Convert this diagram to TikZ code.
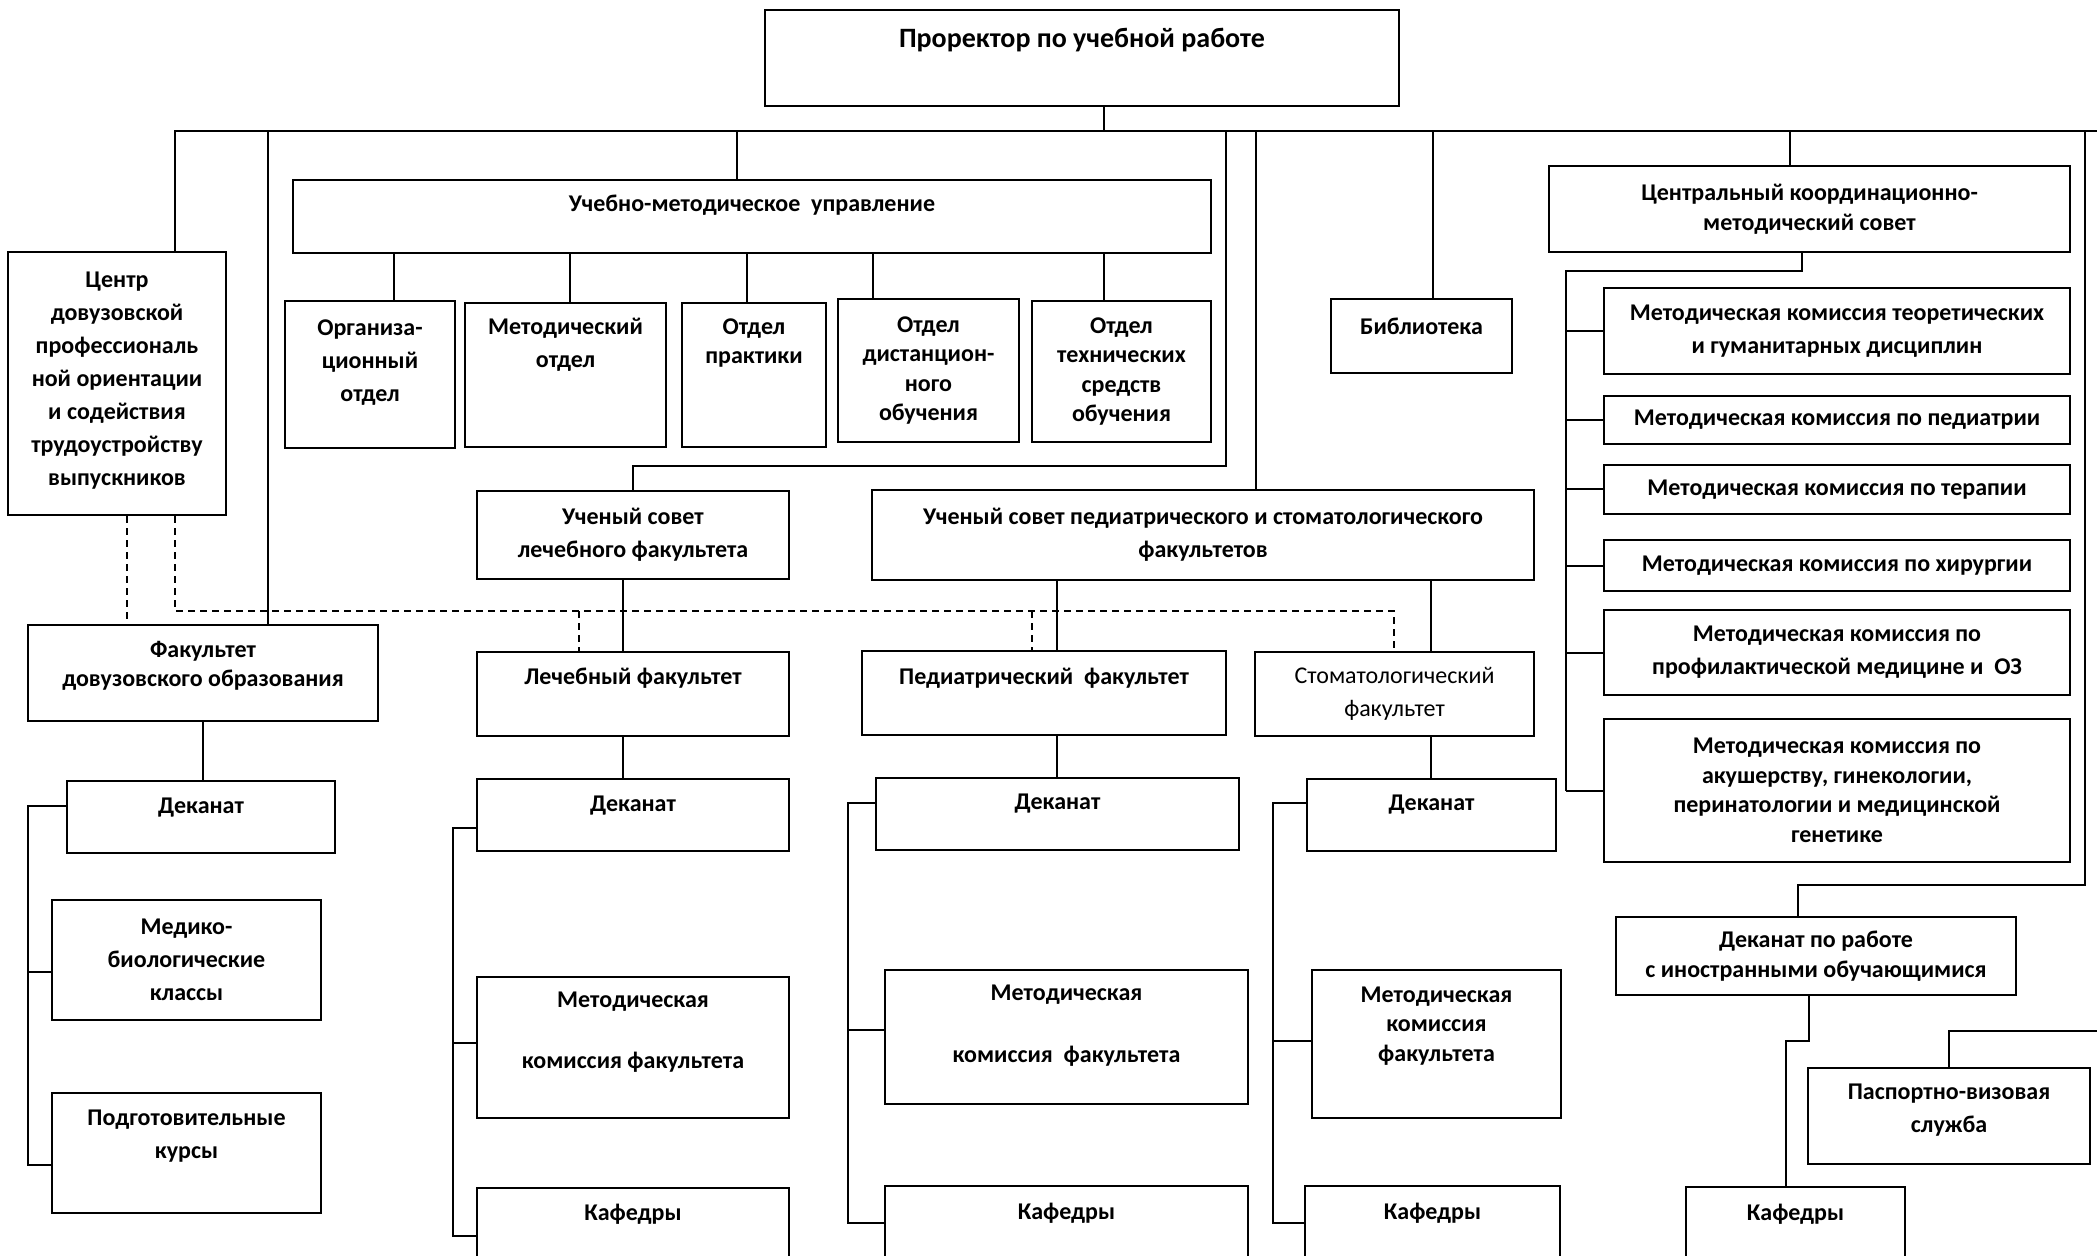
\documentclass[tikz,border=0pt]{standalone}
\usepackage{fontspec}
\setmainfont{Carlito}

\begin{document}
\begin{tikzpicture}[x=0.5pt, y=-0.5pt,
		box/.style 2 args={draw, line width=1.4pt, minimum width=#1*0.5pt, minimum height=#2*0.5pt, inner sep=0pt},
		txt/.style={align=center, inner sep=0pt, font=\bfseries\fontsize{12}{16.5}\selectfont},
		tight/.style={font=\bfseries\fontsize{12}{14.75}\selectfont},
		ln/.style={line width=1pt},
		dsh/.style={line width=1pt, dash pattern=on 3.5pt off 2.5pt}]
			%%%%% START %%%%%
			
			\useasboundingbox (0,0) rectangle (2097,1256);
			\clip (0,0) rectangle (2097,1256);
			
			\node[box={634}{96}, label={[txt,font=\bfseries\fontsize{14}{17}\selectfont,yshift=9pt]center:{Проректор по учебной работе}}] (pr) at (1082,58) {};
			
			\node[box={918}{73}, label={[txt,yshift=5.5pt]center:{Учебно-методическое~~управление}}] (umu) at (752,216.5) {};
			\node[box={170}{147}, label={[txt,yshift=6pt]center:{Организа-\\ционный\\отдел}}] (org) at (370,374.5) {};
			\node[box={201}{144}, label={[txt,yshift=15pt]center:{Методический\\отдел}}] (met) at (565.5,375) {};
			\node[box={144}{144}, label={[txt,tight,yshift=16pt]center:{Отдел\\практики}}] (prk) at (754,375) {};
			\node[box={181}{143}, label={[txt,tight]center:{Отдел\\дистанцион-\\ного\\обучения}}] (dist) at (928.5,370.5) {};
			\node[box={179}{141}, label={[txt,tight]center:{Отдел\\технических\\средств\\обучения}}] (tech) at (1121.5,371.5) {};
			
			\node[box={218}{263}, label={[txt,yshift=1.5pt]center:{Центр\\довузовской\\профессиональ\\ной ориентации\\и содействия\\трудоустройству\\выпускников}}] (cdp) at (117,383.5) {};
			
			\node[box={181}{74}, label={[txt,yshift=5pt]center:{Библиотека}}] (lib) at (1421.5,336) {};
			
			\node[box={521}{86}, label={[txt,tight]center:{Центральный координационно-\\методический совет}}] (ckms) at (1809.5,209) {};
			\node[box={466}{86}, label={[txt]center:{Методическая комиссия теоретических\\и гуманитарных дисциплин}}] (mk1) at (1837,331) {};
			\node[box={466}{48}, label={[txt]center:{Методическая комиссия по педиатрии}}] (mk2) at (1837,420) {};
			\node[box={466}{49}, label={[txt]center:{Методическая комиссия по терапии}}] (mk3) at (1837,489.5) {};
			\node[box={466}{51}, label={[txt]center:{Методическая комиссия по хирургии}}] (mk4) at (1837,565.5) {};
			\node[box={466}{85}, label={[txt]center:{Методическая комиссия по\\профилактической медицине и~~ОЗ}}] (mk5) at (1837,652.5) {};
			\node[box={466}{143}, label={[txt,tight]center:{Методическая комиссия по\\акушерству, гинекологии,\\перинатологии и медицинской\\генетике}}] (mk6) at (1837,790.5) {};
			
			\node[box={312}{88}, label={[txt]center:{Ученый совет\\лечебного факультета}}] (usl) at (633,535) {};
			\node[box={662}{90}, label={[txt]center:{Ученый совет педиатрического и стоматологического\\факультетов}}] (usp) at (1203,535) {};
			
			\node[box={350}{96}, label={[txt,tight,yshift=3.5pt]center:{Факультет\\довузовского образования}}] (fdo) at (203,673) {};
			\node[box={312}{84}, label={[txt,yshift=8pt]center:{Лечебный факультет}}] (lf) at (633,694) {};
			\node[box={364}{84}, label={[txt,yshift=7.5pt]center:{Педиатрический~~факультет}}] (pf) at (1044,693) {};
			\node[box={279}{84}, label={[txt,font=\fontsize{12}{16.5}\selectfont]center:{Стоматологический\\факультет}}] (sf) at (1394.5,694) {};
			
			\node[box={268}{72}, label={[txt,yshift=4.5pt]center:{Деканат}}] (dek0) at (201,817) {};
			\node[box={269}{120}, label={[txt]center:{Медико-\\биологические\\классы}}] (mbk) at (186.5,960) {};
			\node[box={269}{120}, label={[txt,yshift=8.5pt]center:{Подготовительные\\курсы}}] (pk) at (186.5,1153) {};
			
			\node[box={312}{72}, label={[txt,yshift=4.5pt]center:{Деканат}}] (dek1) at (633,815) {};
			\node[box={312}{141}, label={[txt,yshift=7.5pt]center:{Методическая\\[14pt]комиссия факультета}}] (mkf1) at (633,1047.5) {};
			\node[box={312}{102}, label={[txt,yshift=12.5pt]center:{Кафедры}}] (kaf1) at (633,1239) {};
			
			\node[box={363}{72}, label={[txt,yshift=5pt]center:{Деканат}}] (dek2) at (1057.5,814) {};
			\node[box={363}{134}, label={[txt,yshift=5.5pt]center:{Методическая\\[14.5pt]комиссия~~факультета}}] (mkf2) at (1066.5,1037) {};
			\node[box={363}{104}, label={[txt,yshift=12.5pt]center:{Кафедры}}] (kaf2) at (1066.5,1238) {};
			
			\node[box={249}{72}, label={[txt,yshift=5pt]center:{Деканат}}] (dek3) at (1431.5,815) {};
			\node[box={249}{148}, label={[txt,tight,yshift=9pt]center:{Методическая\\комиссия\\факультета}}] (mkf3) at (1436.5,1044) {};
			\node[box={255}{104}, label={[txt,yshift=12.5pt]center:{Кафедры}}] (kaf3) at (1432.5,1238) {};
			
			\node[box={400}{78}, label={[txt,tight]center:{Деканат по работе\\с иностранными обучающимися}}] (dino) at (1816,956) {};
			\node[box={282}{96}, label={[txt,yshift=3pt]center:{Паспортно-визовая\\служба}}] (pvs) at (1949,1116) {};
			\node[box={219}{103}, label={[txt,yshift=12pt]center:{Кафедры}}] (kaf4) at (1795.5,1238.5) {};
			
			%%%%% top bus %%%%%
			\coordinate (bL) at (175,131);
			\coordinate (bR) at (2097,131);
			\draw[ln] (cdp.north -| bL) -- (bL) -- (bR);
			
			\coordinate (s0) at (1104,131);
			\draw[ln] (pr.south -| s0) -- (s0);
			\coordinate (s1) at (268,131);
			\draw[ln] (s1) -- (fdo.north -| s1);
			\coordinate (s2) at (737,131);
			\draw[ln] (s2) -- (umu.north -| s2);
			
			\coordinate (u1) at (394,0);
			\coordinate (u2) at (570,0);
			\coordinate (u3) at (747,0);
			\coordinate (u4) at (873,0);
			\draw[ln] (umu.south -| u1) -- (org.north -| u1);
			\draw[ln] (umu.south -| u2) -- (met.north -| u2);
			\draw[ln] (umu.south -| u3) -- (prk.north -| u3);
			\draw[ln] (umu.south -| u4) -- (dist.north -| u4);
			\draw[ln] (umu.south -| s0) -- (tech.north -| s0);
			
			\coordinate (s3) at (1226,131);
			\coordinate (k1) at (1226,466);
			\draw[ln] (s3) -- (k1) -| (usl.north);
			\coordinate (s4) at (1256,131);
			\draw[ln] (s4) -- (usp.north -| s4);
			\coordinate (s5) at (1433,131);
			\draw[ln] (s5) -- (lib.north -| s5);
			\coordinate (s6) at (1790,131);
			\draw[ln] (s6) -- (ckms.north -| s6);
			\coordinate (s7) at (2085,131);
			\coordinate (k2) at (1798,885);
			\draw[ln] (s7) |- (k2) -- (dino.north -| k2);
			
			%%%%% commissions %%%%%
			\coordinate (k3) at (1802,271);
			\coordinate (sp0) at (1566,271);
			\draw[ln] (ckms.south -| k3) -- (k3) -- (sp0) -- (sp0 |- mk6.west);
			\draw[ln] (sp0 |- mk1.west) -- (mk1.west);
			\draw[ln] (sp0 |- mk2.west) -- (mk2.west);
			\draw[ln] (sp0 |- mk3.west) -- (mk3.west);
			\draw[ln] (sp0 |- mk4.west) -- (mk4.west);
			\draw[ln] (sp0 |- mk5.west) -- (mk5.west);
			\draw[ln] (sp0 |- mk6.west) -- (mk6.west);
			
			%%%%% dashed %%%%%
			\coordinate (d1) at (127,0);
			\draw[dsh] (cdp.south -| d1) -- (fdo.north -| d1);
			\coordinate (d2) at (175,611);
			\coordinate (d3) at (1394,611);
			\draw[dsh] (cdp.south -| d2) -- (d2) -- (d3) -- (sf.north -| d3);
			\coordinate (d4) at (579,611);
			\draw[dsh] (d4) -- (lf.north -| d4);
			\coordinate (d5) at (1032,611);
			\draw[dsh] (d5) -- (pf.north -| d5);
			
			%%%%% faculties %%%%%
			\coordinate (v1) at (623,0);
			\draw[ln] (usl.south -| v1) -- (lf.north -| v1);
			\draw[ln] (lf.south -| v1) -- (dek1.north -| v1);
			\coordinate (v2) at (1057,0);
			\draw[ln] (usp.south -| v2) -- (pf.north -| v2);
			\draw[ln] (pf.south -| v2) -- (dek2.north -| v2);
			\coordinate (v3) at (1431,0);
			\draw[ln] (usp.south -| v3) -- (sf.north -| v3);
			\draw[ln] (sf.south -| v3) -- (dek3.north -| v3);
			\draw[ln] (fdo.south) -- (dek0.north -| fdo.south);
			
			\coordinate (l0) at (28,806);
			\coordinate (l1) at (28,972);
			\coordinate (l2) at (28,1165);
			\draw[ln] (dek0.west |- l0) -- (l0) -- (l2) -- (pk.west |- l2);
			\draw[ln] (l1) -- (mbk.west |- l1);
			
			\coordinate (m0) at (453,828);
			\coordinate (m1) at (453,1043);
			\coordinate (m2) at (453,1236);
			\draw[ln] (dek1.west |- m0) -- (m0) -- (m2) -- (kaf1.west |- m2);
			\draw[ln] (m1) -- (mkf1.west |- m1);
			
			\coordinate (n0) at (848,803);
			\coordinate (n1) at (848,1030);
			\coordinate (n2) at (848,1223);
			\draw[ln] (dek2.west |- n0) -- (n0) -- (n2) -- (kaf2.west |- n2);
			\draw[ln] (n1) -- (mkf2.west |- n1);
			
			\coordinate (p0) at (1273,803);
			\coordinate (p1) at (1273,1041);
			\coordinate (p2) at (1273,1223);
			\draw[ln] (dek3.west |- p0) -- (p0) -- (p2) -- (kaf3.west |- p2);
			\draw[ln] (p1) -- (mkf3.west |- p1);
			
			%%%%% foreign students %%%%%
			\coordinate (k4) at (1809,1041);
			\coordinate (k5) at (1786,1041);
			\draw[ln] (dino.south -| k4) -- (k4) -- (k5) -- (kaf4.north -| k5);
			\coordinate (k6) at (2097,1031);
			\draw[ln] (pvs.north) |- (k6);
			
			%%%%% END %%%%%
\end{tikzpicture}
\end{document}
